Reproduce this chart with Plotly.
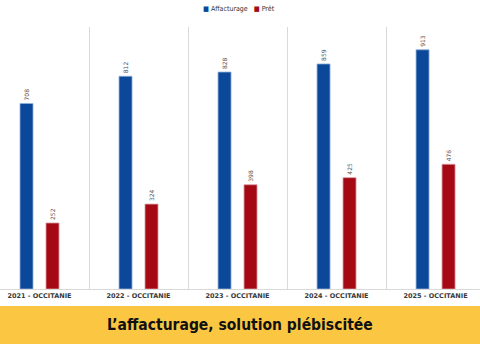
import plotly.graph_objects as go

categories = ["2021 - OCCITANIE", "2022 - OCCITANIE", "2023 - OCCITANIE",
              "2024 - OCCITANIE", "2025 - OCCITANIE"]
affacturage = [708, 812, 828, 859, 913]
pret = [252, 324, 398, 425, 476]
series_names = ["Affacturage", "Prêt"]
series_colors = ["#0b4899", "#a50a14"]
title_text = "L’affacturage, solution plébiscitée"

fig = go.Figure()
for name, vals, col, edge in zip(series_names, [affacturage, pret], series_colors,
                                 ["#8fb0dc", "#d99aa0"]):
    fig.add_bar(x=categories, y=vals, name=name,
                marker=dict(color=col, line=dict(color=edge, width=0.8)),
                text=[str(v) for v in vals], textposition="outside",
                textangle=-90, cliponaxis=False, showlegend=False,
                textfont=dict(size=6, color="#505050", family="DejaVu Sans"))

legend_html = "&nbsp;&nbsp;&nbsp;".join(
    f"<span style='color:{c}'>■</span> {n}" for n, c in zip(series_names, series_colors))

fig.update_layout(
    width=480, height=344,
    margin=dict(l=0, r=0, t=27, b=55),
    paper_bgcolor="white", plot_bgcolor="white",
    barmode="group", bargap=0.475, bargroupgap=0.5,
    font=dict(family="DejaVu Sans"),
    xaxis=dict(range=[-0.399, 4.449], tickson="boundaries", showgrid=True,
               gridcolor="#d9d9d9", gridwidth=1, showline=True, linecolor="#d9d9d9",
               ticks="", tickfont=dict(size=6.5, color="#3a3a3a", family="DejaVu Sans",
                                       weight="bold"),
               fixedrange=True),
    yaxis=dict(range=[0, 1000], visible=False, showgrid=False, fixedrange=True),
    shapes=[dict(type="rect", xref="paper", yref="paper", x0=0, x1=1,
                 y0=-0.21, y1=-0.0649, fillcolor="#fbc743", line=dict(width=0),
                 layer="below")],
    annotations=[
        dict(text=legend_html, xref="paper", yref="paper", x=0.498, y=1.069,
             xanchor="center", yanchor="middle", showarrow=False,
             font=dict(size=7, color="#333333", family="DejaVu Sans Condensed")),
        dict(text="<b>" + title_text + "</b>", xref="paper", yref="paper",
             x=0.5, y=-0.137, xanchor="center", yanchor="middle",
             showarrow=False,
             font=dict(size=15.5, color="#111111", family="DejaVu Sans Condensed"))],
)

fig.write_html("out.html")
